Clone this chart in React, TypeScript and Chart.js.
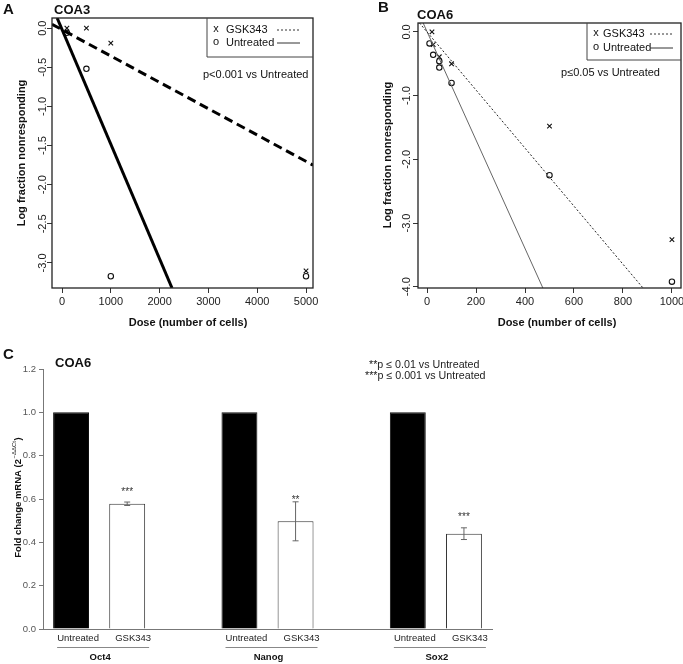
import React, { useEffect, useRef } from "react";
import { Chart, registerables } from "chart.js";

Chart.register(...registerables);

// ---------------- Panel A : COA3 limiting dilution ----------------
const aDoseTicks = [0, 1000, 2000, 3000, 4000, 5000];
const aDoseTickLabels = ["0", "1000", "2000", "3000", "4000", "5000"];
const aLogTicks = [0, -0.5, -1, -1.5, -2, -2.5, -3];
const aLogTickLabels = ["0.0", "-0.5", "-1.0", "-1.5", "-2.0", "-2.5", "-3.0"];
const aGskDose = [100, 500, 1000, 5000];
const aGskLog = [0.0, 0.0, -0.19, -3.1];
const aUntDose = [100, 500, 1000, 5000];
const aUntLog = [-0.06, -0.52, -3.17, -3.17];
const aGskFitDose = [-205, 5143];
const aGskFitLog = [0.05, -1.75];
const aUntFitDose = [-100, 2254];
const aUntFitLog = [0.13, -3.32];

// ---------------- Panel B : COA6 limiting dilution ----------------
const bDoseTicks = [0, 200, 400, 600, 800, 1000];
const bDoseTickLabels = ["0", "200", "400", "600", "800", "1000"];
const bLogTicks = [0, -1, -2, -3, -4];
const bLogTickLabels = ["0.0", "-1.0", "-2.0", "-3.0", "-4.0"];
const bGskDose = [20, 25, 50, 100, 500, 1000];
const bGskLog = [0.0, -0.2, -0.39, -0.5, -1.48, -3.26];
const bUntDose = [10, 25, 50, 50, 100, 500, 1000];
const bUntLog = [-0.18, -0.36, -0.46, -0.56, -0.8, -2.25, -3.92];
const bGskFitDose = [-31, 882];
const bGskFitLog = [0.14, -4.02];
const bUntFitDose = [-16, 473];
const bUntFitLog = [0.14, -4.02];

// ---------------- Panel C : qPCR fold change ----------------
const genes = ["Oct4", "Nanog", "Sox2"];
const treatments = ["Untreated", "GSK343"];
const untreatedFold = [1, 1, 1];
const gskFold = [0.578, 0.497, 0.44];
const gskErr = [0.008, 0.09, 0.027];
const stars = ["***", "**", "***"];
const starLevel = [0.647, 0.61, 0.531];
const cFoldTicks = [0, 0.2, 0.4, 0.6, 0.8, 1.0, 1.2];
const cFoldTickLabels = ["0.0", "0.2", "0.4", "0.6", "0.8", "1.0", "1.2"];

const FONT = '"Liberation Sans", Arial, Helvetica, sans-serif';

type TextItem = {
  t: string;
  x: number;
  y: number;
  font: string;
  align?: CanvasTextAlign;
  rotate?: boolean;
  color?: string;
};
type LineItem = { pts: number[][]; width?: number; color?: string; dash?: number[] };
type AxisLabelSpec = {
  scale: string;
  values: number[];
  labels: string[];
  pos: number;
  font: string;
  color: string;
  rotate?: boolean;
  align?: CanvasTextAlign;
};

function makeDecor(spec: {
  box?: boolean;
  texts?: TextItem[];
  lines?: LineItem[];
  axes?: AxisLabelSpec[];
  extra?: (chart: any) => void;
}) {
  return {
    id: "decor",
    afterDraw(chart: any) {
      const ctx: CanvasRenderingContext2D = chart.ctx;
      const ca = chart.chartArea;
      ctx.save();
      if (spec.box) {
        ctx.strokeStyle = "#222";
        ctx.lineWidth = 1.3;
        ctx.setLineDash([]);
        ctx.strokeRect(ca.left, ca.top, ca.right - ca.left, ca.bottom - ca.top);
      }
      for (const l of spec.lines || []) {
        ctx.beginPath();
        ctx.strokeStyle = l.color || "#333";
        ctx.lineWidth = l.width || 1;
        ctx.setLineDash(l.dash || []);
        l.pts.forEach((p, i) => (i === 0 ? ctx.moveTo(p[0], p[1]) : ctx.lineTo(p[0], p[1])));
        ctx.stroke();
      }
      ctx.setLineDash([]);
      for (const ax of spec.axes || []) {
        const scale = chart.scales[ax.scale];
        ctx.font = ax.font;
        ctx.fillStyle = ax.color;
        ctx.textBaseline = "middle";
        ax.values.forEach((v, i) => {
          const p = scale.getPixelForValue(v);
          if (ax.rotate) {
            ctx.save();
            ctx.translate(ax.pos, p);
            ctx.rotate(-Math.PI / 2);
            ctx.textAlign = "center";
            ctx.fillText(ax.labels[i], 0, 0);
            ctx.restore();
          } else if (scale.isHorizontal()) {
            ctx.textAlign = ax.align || "center";
            ctx.fillText(ax.labels[i], p, ax.pos);
          } else {
            ctx.textAlign = ax.align || "right";
            ctx.fillText(ax.labels[i], ax.pos, p);
          }
        });
      }
      for (const t of spec.texts || []) {
        ctx.font = t.font;
        ctx.fillStyle = t.color || "#111";
        ctx.textBaseline = "middle";
        ctx.textAlign = t.align || "left";
        if (t.rotate) {
          ctx.save();
          ctx.translate(t.x, t.y);
          ctx.rotate(-Math.PI / 2);
          ctx.fillText(t.t, 0, 0);
          ctx.restore();
        } else {
          ctx.fillText(t.t, t.x, t.y);
        }
      }
      if (spec.extra) spec.extra(chart);
      ctx.restore();
    },
  };
}

const pts = (xs: number[], ys: number[]) => xs.map((x, i) => ({ x, y: ys[i] }));

function rScales(
  xmin: number,
  xmax: number,
  xTicks: number[],
  ymin: number,
  ymax: number,
  yTicks: number[],
  yWidth: number,
  xHeight: number
) {
  const grid = { display: true, drawOnChartArea: false, drawTicks: true, tickLength: 5, color: "#333", lineWidth: 1 };
  return {
    x: {
      type: "linear",
      min: xmin,
      max: xmax,
      bounds: "data",
      afterBuildTicks: (s: any) => {
        s.ticks = xTicks.map((v) => ({ value: v }));
      },
      afterFit: (s: any) => {
        s.height = xHeight;
      },
      ticks: { display: false },
      grid,
      border: { display: false },
    },
    y: {
      type: "linear",
      min: ymin,
      max: ymax,
      bounds: "data",
      afterBuildTicks: (s: any) => {
        s.ticks = yTicks.map((v) => ({ value: v }));
      },
      afterFit: (s: any) => {
        s.width = yWidth;
      },
      ticks: { display: false },
      grid,
      border: { display: false },
    },
  };
}

function legendBox(left: number, bottom: number, row1: number, row2: number, sx1: number, sx2: number) {
  return (chart: any) => {
    const ctx: CanvasRenderingContext2D = chart.ctx;
    const ca = chart.chartArea;
    ctx.strokeStyle = "#444";
    ctx.lineWidth = 1;
    ctx.setLineDash([]);
    ctx.beginPath();
    ctx.moveTo(left, ca.top);
    ctx.lineTo(left, bottom);
    ctx.lineTo(ca.right, bottom);
    ctx.stroke();
    ctx.strokeStyle = "#333";
    ctx.beginPath();
    ctx.setLineDash([2, 2]);
    ctx.moveTo(sx1, row1);
    ctx.lineTo(sx2, row1);
    ctx.stroke();
    ctx.setLineDash([]);
    ctx.beginPath();
    ctx.moveTo(sx1, row2);
    ctx.lineTo(sx2, row2);
    ctx.stroke();
  };
}

function configA() {
  const tick = `11px ${FONT}`;
  return {
    type: "scatter",
    data: {
      datasets: [
        { data: pts(aGskFitDose, aGskFitLog), showLine: true, borderColor: "#000", borderWidth: 3, borderDash: [9, 5], pointRadius: 0, tension: 0 },
        { data: pts(aUntFitDose, aUntFitLog), showLine: true, borderColor: "#000", borderWidth: 3, pointRadius: 0, tension: 0 },
        { data: pts(aGskDose, aGskLog), pointStyle: "crossRot", pointRadius: 3.2, borderColor: "#111", borderWidth: 1.1, backgroundColor: "rgba(0,0,0,0)" },
        { data: pts(aUntDose, aUntLog), pointStyle: "circle", pointRadius: 2.7, borderColor: "#111", borderWidth: 1.1, backgroundColor: "rgba(0,0,0,0)" },
      ],
    },
    options: {
      animation: false,
      responsive: false,
      events: [],
      layout: { autoPadding: false, padding: { left: 0, top: 18, right: 27, bottom: 0 } },
      plugins: { legend: { display: false }, tooltip: { enabled: false } },
      scales: rScales(-205, 5143, aDoseTicks, -3.32, 0.13, aLogTicks, 52, 52),
    },
    plugins: [
      makeDecor({
        box: true,
        axes: [
          { scale: "x", values: aDoseTicks, labels: aDoseTickLabels, pos: 302, font: tick, color: "#222" },
          { scale: "y", values: aLogTicks, labels: aLogTickLabels, pos: 43, font: tick, color: "#222", rotate: true },
        ],
        texts: [
          { t: "A", x: 3, y: 10, font: `bold 15px ${FONT}` },
          { t: "COA3", x: 54, y: 10, font: `bold 13px ${FONT}` },
          { t: "x", x: 216, y: 29, font: tick, align: "center" },
          { t: "GSK343", x: 226, y: 30, font: tick },
          { t: "o", x: 216, y: 42, font: tick, align: "center" },
          { t: "Untreated", x: 226, y: 43, font: tick },
          { t: "p<0.001 vs Untreated", x: 203, y: 75, font: tick },
          { t: "Dose (number of cells)", x: 188, y: 323, font: `bold 11px ${FONT}`, align: "center" },
          { t: "Log fraction nonresponding", x: 22, y: 153, font: `bold 11px ${FONT}`, align: "center", rotate: true },
        ],
        extra: legendBox(207, 57, 30, 43, 277, 300),
      }),
    ],
  };
}

function configB() {
  const tick = `11px ${FONT}`;
  return {
    type: "scatter",
    data: {
      datasets: [
        { data: pts(bGskFitDose, bGskFitLog), showLine: true, borderColor: "#222", borderWidth: 1, borderDash: [2, 2], pointRadius: 0, tension: 0 },
        { data: pts(bUntFitDose, bUntFitLog), showLine: true, borderColor: "#666", borderWidth: 1, pointRadius: 0, tension: 0 },
        { data: pts(bGskDose, bGskLog), pointStyle: "crossRot", pointRadius: 3.2, borderColor: "#111", borderWidth: 1.1, backgroundColor: "rgba(0,0,0,0)" },
        { data: pts(bUntDose, bUntLog), pointStyle: "circle", pointRadius: 2.7, borderColor: "#111", borderWidth: 1.1, backgroundColor: "rgba(0,0,0,0)" },
      ],
    },
    options: {
      animation: false,
      responsive: false,
      events: [],
      layout: { autoPadding: false, padding: { left: 0, top: 23, right: 2, bottom: 0 } },
      plugins: { legend: { display: false }, tooltip: { enabled: false } },
      scales: rScales(-37, 1037, bDoseTicks, -4.02, 0.14, bLogTicks, 78, 52),
    },
    plugins: [
      makeDecor({
        box: true,
        axes: [
          { scale: "x", values: bDoseTicks, labels: bDoseTickLabels, pos: 302, font: tick, color: "#222" },
          { scale: "y", values: bLogTicks, labels: bLogTickLabels, pos: 67, font: tick, color: "#222", rotate: true },
        ],
        texts: [
          { t: "B", x: 38, y: 8, font: `bold 15px ${FONT}` },
          { t: "COA6", x: 77, y: 15, font: `bold 13px ${FONT}` },
          { t: "x", x: 256, y: 33, font: tick, align: "center" },
          { t: "GSK343", x: 263, y: 34, font: tick },
          { t: "o", x: 256, y: 47, font: tick, align: "center" },
          { t: "Untreated", x: 263, y: 48, font: tick },
          { t: "p\u22640.05 vs Untreated", x: 221, y: 73, font: tick },
          { t: "Dose (number of cells)", x: 217, y: 323, font: `bold 11px ${FONT}`, align: "center" },
          { t: "Log fraction nonresponding", x: 48, y: 155, font: `bold 11px ${FONT}`, align: "center", rotate: true },
        ],
        extra: legendBox(247, 60, 34, 48, 310, 333),
      }),
    ],
  };
}

function configC() {
  // build 8 slots: Untreated, GSK343, gap, ...
  const slotLabels: string[] = [];
  const slotValues: (number | null)[] = [];
  const slotColors: string[] = [];
  const slotBorders: string[] = [];
  genes.forEach((g, i) => {
    slotLabels.push(treatments[0], treatments[1]);
    slotValues.push(untreatedFold[i], gskFold[i]);
    slotColors.push("#000", "#fff");
    slotBorders.push("#111", "#333");
    if (i < genes.length - 1) {
      slotLabels.push("");
      slotValues.push(null);
      slotColors.push("#fff");
      slotBorders.push("#fff");
    }
  });
  const small = `9.5px ${FONT}`;
  return {
    type: "bar",
    data: {
      labels: slotLabels,
      datasets: [
        {
          data: slotValues,
          backgroundColor: slotColors,
          borderColor: slotBorders,
          borderWidth: 1,
          barPercentage: 0.64,
          categoryPercentage: 1,
        },
      ],
    },
    options: {
      animation: false,
      responsive: false,
      events: [],
      layout: { autoPadding: false, padding: { left: 0, top: 29, right: 191, bottom: 0 } },
      plugins: { legend: { display: false }, tooltip: { enabled: false } },
      scales: {
        x: {
          type: "category",
          offset: true,
          afterFit: (s: any) => {
            s.height = 35;
          },
          ticks: { display: false },
          grid: { display: false },
          border: { display: true, color: "#777", width: 1 },
        },
        y: {
          type: "linear",
          min: 0,
          max: 1.2,
          afterBuildTicks: (s: any) => {
            s.ticks = cFoldTicks.map((v) => ({ value: v }));
          },
          afterFit: (s: any) => {
            s.width = 43;
          },
          ticks: { display: false },
          grid: { display: true, drawOnChartArea: false, drawTicks: true, tickLength: 4, color: "#777" },
          border: { display: true, color: "#777", width: 1 },
        },
      },
    },
    plugins: [
      makeDecor({
        axes: [{ scale: "y", values: cFoldTicks, labels: cFoldTickLabels, pos: 36, font: small, color: "#555", align: "right" }],
        texts: [
          { t: "C", x: 3, y: 15, font: `bold 15px ${FONT}` },
          { t: "COA6", x: 55, y: 23, font: `bold 13px ${FONT}` },
          { t: "**p \u2264 0.01 vs Untreated", x: 369, y: 25, font: `10.7px ${FONT}`, color: "#222" },
          { t: "***p \u2264 0.001 vs Untreated", x: 365, y: 36, font: `10.7px ${FONT}`, color: "#222" },
        ],
        extra: (chart: any) => {
          const ctx: CanvasRenderingContext2D = chart.ctx;
          const xs = chart.scales.x;
          const ys = chart.scales.y;
          genes.forEach((g, i) => {
            const ui = i * 3;
            const gi = i * 3 + 1;
            const ux = xs.getPixelForValue(ui);
            const gx = xs.getPixelForValue(gi);
            const cx = (ux + gx) / 2;
            // error bar
            const top = ys.getPixelForValue(gskFold[i] + gskErr[i]);
            const bot = ys.getPixelForValue(gskFold[i] - gskErr[i]);
            ctx.strokeStyle = "#666";
            ctx.lineWidth = 1;
            ctx.beginPath();
            ctx.moveTo(gx, top);
            ctx.lineTo(gx, bot);
            ctx.moveTo(gx - 3, top);
            ctx.lineTo(gx + 3, top);
            ctx.moveTo(gx - 3, bot);
            ctx.lineTo(gx + 3, bot);
            ctx.stroke();
            // stars
            ctx.fillStyle = "#333";
            ctx.font = `10px ${FONT}`;
            ctx.textAlign = "center";
            ctx.textBaseline = "middle";
            ctx.fillText(stars[i], gx, ys.getPixelForValue(starLevel[i]) + 3);
            // category labels
            ctx.font = small;
            ctx.fillStyle = "#222";
            ctx.fillText(treatments[0], ux + 7, 298);
            ctx.fillText(treatments[1], gx + 6, 298);
            // underline
            ctx.strokeStyle = "#888";
            ctx.beginPath();
            ctx.moveTo(cx - 42, 307.5);
            ctx.lineTo(cx + 50, 307.5);
            ctx.stroke();
            // gene name
            ctx.font = `bold 9.5px ${FONT}`;
            ctx.fillStyle = "#111";
            ctx.fillText(g, cx + 1, 317);
          });
          // y title with superscript
          ctx.save();
          ctx.translate(18, 158);
          ctx.rotate(-Math.PI / 2);
          ctx.fillStyle = "#111";
          ctx.textBaseline = "middle";
          ctx.textAlign = "left";
          const mainFont = `bold 9.5px ${FONT}`;
          const supFont = `6px ${FONT}`;
          const p1 = "Fold change mRNA (2";
          const p2 = "\u2212\u0394\u0394Ct";
          const p3 = ")";
          ctx.font = mainFont;
          const w1 = ctx.measureText(p1).width;
          const w3 = ctx.measureText(p3).width;
          ctx.font = supFont;
          const w2 = ctx.measureText(p2).width;
          let x0 = -(w1 + w2 + w3) / 2;
          ctx.font = mainFont;
          ctx.fillText(p1, x0, 0);
          x0 += w1;
          ctx.font = supFont;
          ctx.fillText(p2, x0 + 0.5, -3.5);
          x0 += w2 + 1;
          ctx.font = mainFont;
          ctx.fillText(p3, x0, 0);
          ctx.restore();
        },
      }),
    ],
  };
}

function ChartCanvas(props: { make: () => any; w: number; h: number; left: number; top: number }) {
  const ref = useRef<HTMLCanvasElement>(null);
  useEffect(() => {
    const chart = new Chart(ref.current as HTMLCanvasElement, props.make());
    return () => chart.destroy();
  }, []);
  return (
    <canvas
      ref={ref}
      width={props.w}
      height={props.h}
      style={{ position: "absolute", left: props.left, top: props.top, width: props.w, height: props.h }}
    />
  );
}

export default function App() {
  return (
    <div style={{ position: "absolute", left: 0, top: 0, width: 683, height: 664, background: "#fff", overflow: "hidden" }}>
      <ChartCanvas make={configA} w={340} h={340} left={0} top={0} />
      <ChartCanvas make={configB} w={343} h={340} left={340} top={0} />
      <ChartCanvas make={configC} w={683} h={324} left={0} top={340} />
    </div>
  );
}
